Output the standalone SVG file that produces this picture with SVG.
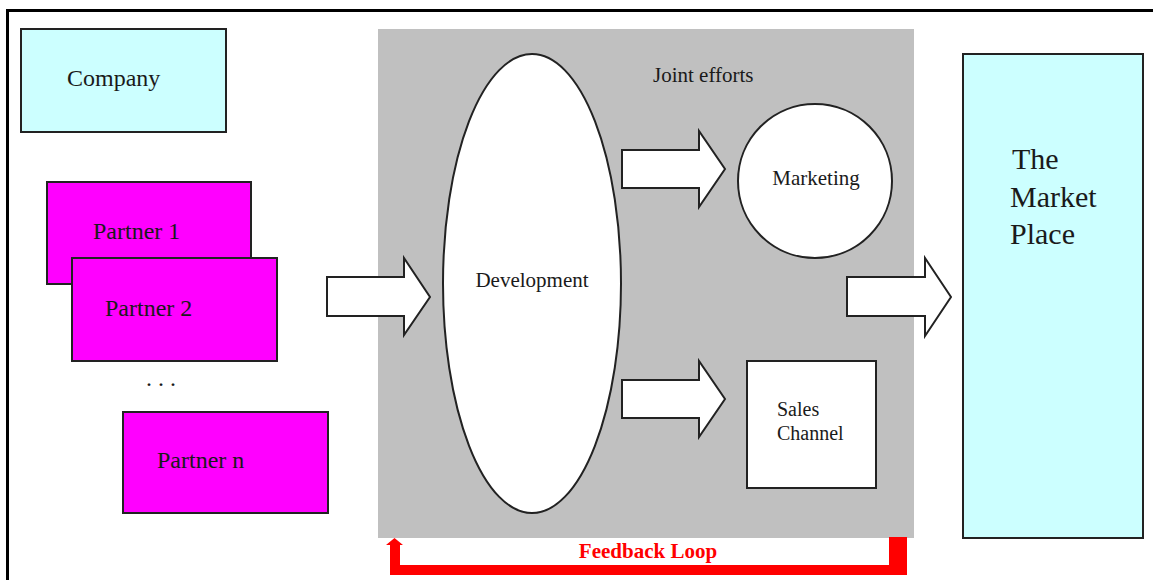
<svg xmlns="http://www.w3.org/2000/svg" width="1153" height="580" viewBox="0 0 1153 580">
<style>
.t{font-family:"Liberation Serif","Times New Roman",serif;fill:#1a1a1a}
.box{stroke:#222;stroke-width:2}
.cyan{fill:#ccffff}
.mag{fill:#ff00ff}
.wh{fill:#ffffff;stroke:#222;stroke-width:2}
.arrow{fill:#ffffff;stroke:#222;stroke-width:2;stroke-linejoin:miter}
</style>
<rect x="0" y="0" width="1153" height="580" fill="#ffffff"/>
<g id="frame">
<line x1="7.5" y1="10.5" x2="1153" y2="10.5" stroke="#000" stroke-width="3"/>
<line x1="7.5" y1="9" x2="7.5" y2="580" stroke="#000" stroke-width="3"/>
</g>
<g id="joint-panel">
<rect x="378" y="29" width="536" height="509" fill="#c0c0c0"/>
<text class="t" x="653" y="82" font-size="21">Joint efforts</text>
</g>
<g id="company">
<rect class="box cyan" x="21" y="29" width="205" height="103"/>
<text class="t" x="67" y="86" font-size="24">Company</text>
</g>
<g id="partner1">
<rect class="box mag" x="47" y="182" width="204" height="102"/>
<text class="t" x="93" y="239" font-size="24">Partner 1</text>
</g>
<g id="partner2">
<rect class="box mag" x="72" y="258" width="205" height="103"/>
<text class="t" x="105" y="316" font-size="24">Partner 2</text>
</g>
<g id="ellipsis">
<text class="t" x="146" y="386" font-size="24">. . .</text>
</g>
<g id="partnern">
<rect class="box mag" x="123" y="412" width="205" height="101"/>
<text class="t" x="157" y="468" font-size="24">Partner n</text>
</g>
<g id="development">
<ellipse class="wh" cx="532" cy="283.5" rx="89" ry="229.5"/>
<text class="t" x="532" y="287" font-size="21" text-anchor="middle">Development</text>
</g>
<g id="marketing">
<circle class="wh" cx="815" cy="181" r="77"/>
<text class="t" x="816" y="185" font-size="21" text-anchor="middle">Marketing</text>
</g>
<g id="sales">
<rect class="wh" x="747" y="361" width="129" height="127"/>
<text class="t" x="777" y="416" font-size="20">Sales</text>
<text class="t" x="777" y="440" font-size="20">Channel</text>
</g>
<g id="marketplace">
<rect class="box cyan" x="963" y="54" width="180" height="484"/>
<text class="t" x="1012" y="169" font-size="30">The</text>
<text class="t" x="1010" y="207" font-size="30">Market</text>
<text class="t" x="1010" y="244" font-size="30">Place</text>
</g>
<g id="connectors">
<polygon class="arrow" points="327,277 404,277 404,258 430,297 404,335 404,316 327,316"/>
<polygon class="arrow" points="622,150 699,150 699,131 725,169 699,207 699,188 622,188"/>
<polygon class="arrow" points="622,380 699,380 699,361 725,399 699,437 699,418 622,418"/>
<polygon class="arrow" points="847,277 925,277 925,258 951,297 925,336 925,316 847,316"/>
<g id="feedback">
<path d="M889,537 H907 V575 H390 V545 H386 L394.5,538 L403,545 H400 V565 H889 Z" fill="#ff0000"/>
<text x="648" y="558" font-size="21" font-weight="bold" fill="#ff0000" text-anchor="middle" font-family="Liberation Serif,'Times New Roman',serif">Feedback Loop</text>
</g>
</g>
</svg>
